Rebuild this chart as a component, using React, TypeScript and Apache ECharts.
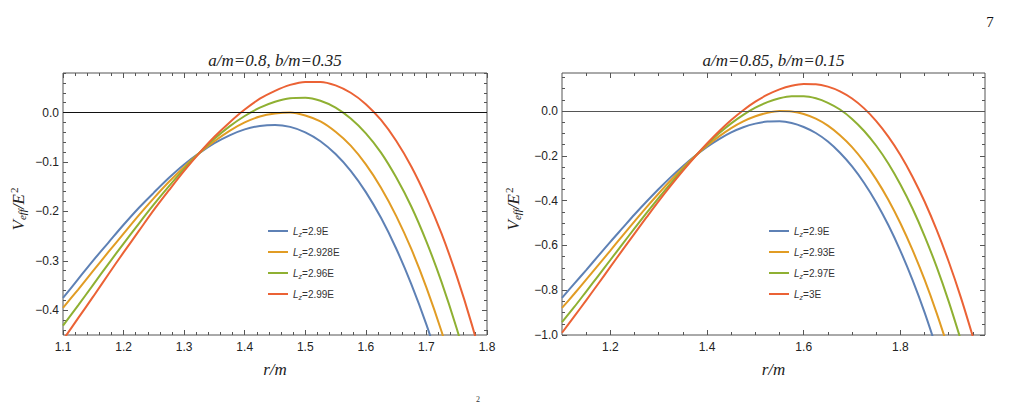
import React, { useEffect, useRef } from "react";
import * as echarts from "echarts";

// ---------- data ----------
const rLeft = [1.1, 1.125, 1.15, 1.175, 1.2, 1.225, 1.25, 1.275, 1.3, 1.325, 1.35, 1.375, 1.4, 1.425, 1.45, 1.475, 1.5, 1.525, 1.55, 1.575, 1.6, 1.625, 1.65, 1.675, 1.7, 1.725, 1.75, 1.775, 1.8];
const leftNames = ["2.9E", "2.928E", "2.96E", "2.99E"];
const leftBlue = [-0.375, -0.337, -0.299, -0.263, -0.227, -0.193, -0.162, -0.132, -0.105, -0.082, -0.062, -0.046, -0.034, -0.027, -0.025, -0.029, -0.04, -0.058, -0.084, -0.118, -0.161, -0.213, -0.275, -0.347, -0.429, -0.523];
const leftOrange = [-0.395, -0.358, -0.32, -0.282, -0.245, -0.208, -0.173, -0.14, -0.11, -0.082, -0.058, -0.037, -0.02, -0.008, -0.002, 0.0, -0.006, -0.018, -0.039, -0.067, -0.105, -0.152, -0.209, -0.276, -0.354, -0.443, -0.545];
const leftGreen = [-0.431, -0.39, -0.348, -0.306, -0.265, -0.225, -0.186, -0.149, -0.114, -0.082, -0.053, -0.028, -0.007, 0.01, 0.022, 0.029, 0.03, 0.024, 0.01, -0.012, -0.042, -0.081, -0.131, -0.19, -0.261, -0.343, -0.437, -0.543];
const leftRed = [-0.46, -0.416, -0.372, -0.327, -0.283, -0.24, -0.197, -0.157, -0.118, -0.082, -0.049, -0.02, 0.006, 0.028, 0.044, 0.056, 0.062, 0.062, 0.055, 0.04, 0.017, -0.015, -0.057, -0.109, -0.172, -0.245, -0.331, -0.429, -0.54];

const rRight = [1.1, 1.125, 1.15, 1.175, 1.2, 1.225, 1.25, 1.275, 1.3, 1.325, 1.35, 1.375, 1.4, 1.425, 1.45, 1.475, 1.5, 1.525, 1.55, 1.575, 1.6, 1.625, 1.65, 1.675, 1.7, 1.725, 1.75, 1.775, 1.8, 1.825, 1.85, 1.875, 1.9, 1.925, 1.95];
const rightNames = ["2.9E", "2.93E", "2.97E", "3E"];
const rightBlue = [-0.834, -0.772, -0.71, -0.647, -0.584, -0.523, -0.462, -0.404, -0.348, -0.295, -0.246, -0.201, -0.16, -0.125, -0.095, -0.072, -0.056, -0.047, -0.046, -0.053, -0.071, -0.098, -0.136, -0.186, -0.247, -0.321, -0.408, -0.509, -0.624, -0.754, -0.899, -1.061];
const rightOrange = [-0.879, -0.817, -0.753, -0.688, -0.623, -0.557, -0.493, -0.429, -0.368, -0.309, -0.254, -0.202, -0.155, -0.113, -0.076, -0.046, -0.023, -0.008, 0.0, -0.002, -0.013, -0.034, -0.065, -0.108, -0.161, -0.227, -0.305, -0.396, -0.501, -0.62, -0.753, -0.902, -1.066];
const rightGreen = [-0.943, -0.876, -0.806, -0.736, -0.665, -0.594, -0.524, -0.455, -0.388, -0.323, -0.261, -0.203, -0.149, -0.099, -0.055, -0.017, 0.015, 0.04, 0.057, 0.066, 0.066, 0.057, 0.037, 0.007, -0.035, -0.089, -0.155, -0.234, -0.328, -0.435, -0.558, -0.696, -0.851, -1.022];
const rightRed = [-0.99, -0.918, -0.845, -0.771, -0.696, -0.621, -0.547, -0.474, -0.402, -0.333, -0.267, -0.204, -0.145, -0.09, -0.04, 0.004, 0.042, 0.073, 0.097, 0.113, 0.121, 0.12, 0.109, 0.088, 0.056, 0.012, -0.045, -0.114, -0.196, -0.293, -0.404, -0.531, -0.673, -0.832, -1.008];

// tick labels
const leftXTicks = [1.1, 1.2, 1.3, 1.4, 1.5, 1.6, 1.7, 1.8];
const leftYTicks = [-0.4, -0.3, -0.2, -0.1, 0.0];
const rightXTicks = [1.2, 1.4, 1.6, 1.8];
const rightYTicks = [-1.0, -0.8, -0.6, -0.4, -0.2, 0.0];

const titles = ["a/m=0.8, b/m=0.35", "a/m=0.85, b/m=0.15"];

// ---------- styles ----------
const COLORS = ["#5E81B5", "#E19C24", "#8FB032", "#EB6235"];
const FRAME = "#555555";
const SANS = "Liberation Sans";
const SERIF = "Liberation Serif";

function steps(a: number, b: number, s: number): number[] {
  const out: number[] = [];
  const n = Math.round((b - a) / s);
  for (let i = 0; i <= n; i++) out.push(Math.round((a + i * s) * 1000) / 1000);
  return out;
}
function minorOf(all: number[], major: number[]): number[] {
  return all.filter((v) => !major.some((m) => Math.abs(m - v) < 1e-6));
}

const fmt = (v: number) => {
  const s = Math.abs(v).toFixed(1);
  return v < -1e-9 ? "\u2212" + s : s;
};

const panels = [
  {
    grid: { left: 63, top: 73, width: 424, height: 262 },
    xMin: 1.1, xMax: 1.8, yMin: -0.45, yMax: 0.08,
    xMajor: leftXTicks, yMajor: leftYTicks,
    xMinor: minorOf(steps(1.1, 1.8, 0.02), leftXTicks),
    yMinor: minorOf(steps(-0.44, 0.08, 0.02), leftYTicks),
    r: rLeft, values: [leftBlue, leftOrange, leftGreen, leftRed], names: leftNames,
    zeroColor: "#111", legendLeft: 263,
  },
  {
    grid: { left: 562, top: 73, width: 423, height: 262 },
    xMin: 1.1, xMax: 1.975, yMin: -1.0, yMax: 0.17,
    xMajor: rightXTicks, yMajor: rightYTicks,
    xMinor: minorOf(steps(1.15, 1.95, 0.05), rightXTicks),
    yMinor: minorOf(steps(-0.95, 0.15, 0.05), rightYTicks),
    r: rRight, values: [rightBlue, rightOrange, rightGreen, rightRed], names: rightNames,
    zeroColor: "#555", legendLeft: 764,
  },
];

function buildOption() {
  const grid: any[] = [];
  const xAxis: any[] = [];
  const yAxis: any[] = [];
  const series: any[] = [];
  const legend: any[] = [];

  panels.forEach((p, gi) => {
    grid.push({ ...p.grid, show: true, borderColor: FRAME, borderWidth: 1, backgroundColor: "transparent", outerBoundsMode: "none" });
    const base = { type: "value", gridIndex: gi, splitLine: { show: false }, axisLine: { show: false, onZero: false } };
    const xBase = { ...base, min: p.xMin, max: p.xMax };
    const yBase = { ...base, min: p.yMin, max: p.yMax };
    const tick = (vals: number[], len: number) => ({ show: true, inside: true, length: len, customValues: vals, lineStyle: { color: FRAME, width: 1 } });
    const labelStyle = { color: "#222", fontFamily: SANS, fontSize: 12 };
    const xi = xAxis.length;
    xAxis.push({ ...xBase, position: "bottom", axisTick: tick(p.xMajor, 5), axisLabel: { ...labelStyle, customValues: p.xMajor, margin: 6, formatter: fmt } });
    xAxis.push({ ...xBase, position: "bottom", axisTick: tick(p.xMinor, 3), axisLabel: { show: false } });
    xAxis.push({ ...xBase, position: "top", axisTick: tick(p.xMajor, 5), axisLabel: { show: false } });
    xAxis.push({ ...xBase, position: "top", axisTick: tick(p.xMinor, 3), axisLabel: { show: false } });
    const yi = yAxis.length;
    yAxis.push({ ...yBase, position: "left", axisTick: tick(p.yMajor, 5), axisLabel: { ...labelStyle, customValues: p.yMajor, margin: 4, formatter: fmt } });
    yAxis.push({ ...yBase, position: "left", axisTick: tick(p.yMinor, 3), axisLabel: { show: false } });
    yAxis.push({ ...yBase, position: "right", axisTick: tick(p.yMajor, 5), axisLabel: { show: false } });
    yAxis.push({ ...yBase, position: "right", axisTick: tick(p.yMinor, 3), axisLabel: { show: false } });

    p.values.forEach((vals, k) => {
      const s: any = {
        type: "line",
        name: "L_z=" + p.names[k],
        xAxisIndex: xi,
        yAxisIndex: yi,
        data: vals.map((v, i) => [p.r[i], v]),
        showSymbol: false,
        smooth: 0.3,
        clip: true,
        silent: true,
        color: COLORS[k],
        itemStyle: { color: COLORS[k] },
        lineStyle: { color: COLORS[k], width: 2 },
        z: k === 0 ? 1 : 2,
      };
      if (k === 0) {
        s.markLine = {
          symbol: "none",
          silent: true,
          label: { show: false },
          lineStyle: { color: p.zeroColor, width: 1, type: "solid" },
          data: [{ yAxis: 0 }],
        };
      }
      series.push(s);
    });

    legend.push({
      orient: "vertical",
      left: p.legendLeft,
      top: 219,
      itemWidth: 20,
      itemHeight: 2,
      itemGap: 7,
      icon: "rect",
      selectedMode: false,
      data: p.names.map((n) => "L_z=" + n),
      formatter: (name: string) => "{i|L}{s|z}{n|" + name.slice(3) + "}",
      textStyle: {
        color: "#333",
        fontFamily: SANS,
        fontSize: 10,
        lineHeight: 14,
        rich: {
          i: { fontStyle: "italic", fontFamily: SANS, fontSize: 10, color: "#333" },
          s: { fontStyle: "italic", fontFamily: SANS, fontSize: 7, color: "#333", padding: [6, 0, 0, 0] },
          n: { fontFamily: SANS, fontSize: 10, color: "#333" },
        },
      },
    });
  });

  const centers = panels.map((p) => p.grid.left + p.grid.width / 2);
  const graphic: any[] = [
    { type: "text", x: 990, y: 22, style: { text: "7", fontFamily: SERIF, fontSize: 15, fill: "#111", align: "center", verticalAlign: "middle" } },
  ];
  centers.forEach((cx, gi) => {
    graphic.push({ type: "text", x: cx, y: 60, style: { text: titles[gi], fontFamily: SERIF, fontStyle: "italic", fontSize: 17, fill: "#222", align: "center", verticalAlign: "middle" } });
    graphic.push({ type: "text", x: cx, y: 369, style: { text: "r/m", fontFamily: SERIF, fontStyle: "italic", fontSize: 17, fill: "#222", align: "center", verticalAlign: "middle" } });
  });
  [18, 513].forEach((x) => {
    graphic.push({
      type: "text",
      x,
      y: 209,
      rotation: Math.PI / 2,
      style: {
        text: "{v|V}{s|eff}{v|/E}{p|2}",
        align: "center",
        verticalAlign: "middle",
        fill: "#222",
        rich: {
          v: { fontFamily: SERIF, fontStyle: "italic", fontSize: 17, fill: "#222" },
          s: { fontFamily: SERIF, fontStyle: "italic", fontSize: 11, fill: "#222", padding: [8, 0, 0, 0] },
          p: { fontFamily: SERIF, fontSize: 11, fill: "#222", padding: [0, 0, 9, 1] },
        },
      },
    });
  });
  graphic.push({ type: "text", x: 478, y: 399, style: { text: "2", fontFamily: SERIF, fontSize: 8, fill: "#333", align: "center", verticalAlign: "middle" } });

  return { animation: false, backgroundColor: "#ffffff", grid, xAxis, yAxis, series, legend, graphic };
}

export default function App() {
  const ref = useRef<HTMLDivElement>(null);
  useEffect(() => {
    if (!ref.current) return;
    const chart = echarts.init(ref.current, null, { renderer: "svg" });
    chart.setOption(buildOption() as any);
    return () => chart.dispose();
  }, []);
  return <div ref={ref} style={{ position: "fixed", left: 0, top: 0, width: 1010, height: 406 }} />;
}
